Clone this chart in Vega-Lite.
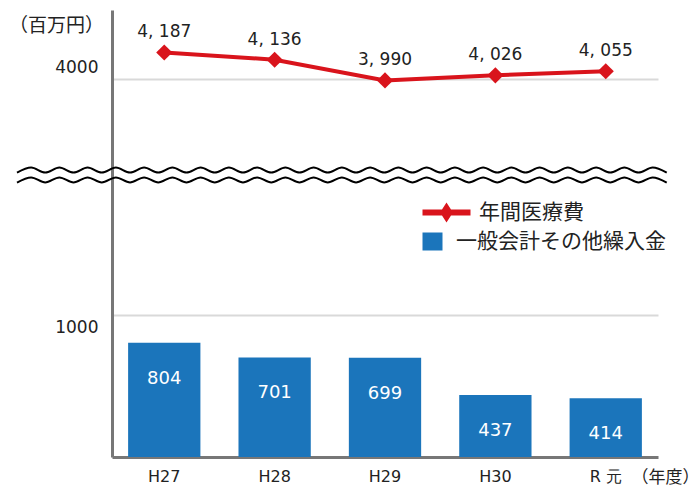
{
  "$schema": "https://vega.github.io/schema/vega-lite/v6.json",
  "width": 546,
  "height": 447,
  "autosize": "none",
  "padding": {"left": 112, "top": 10, "right": 42, "bottom": 38},
  "background": "white",
  "config": {
    "view": {"stroke": null},
    "font": "Noto Sans CJK JP",
    "legend": {
      "orient": "none",
      "legendX": 324,
      "legendY": 192,
      "padding": 0,
      "labelFontSize": 21,
      "labelColor": "#222",
      "labelFont": "Noto Sans CJK JP",
      "labelLimit": 400,
      "symbolSize": 400,
      "rowPadding": 7,
      "symbolOpacity": 1
    }
  },
  "resolve": {"scale": {"x": "independent"}},
  "layer": [
    {
      "data": {
        "values": [
          {"year": "H27", "cost": 4187, "costLabel": "4, 187", "transfer": 804},
          {"year": "H28", "cost": 4136, "costLabel": "4, 136", "transfer": 701},
          {"year": "H29", "cost": 3990, "costLabel": "3, 990", "transfer": 699},
          {"year": "H30", "cost": 4026, "costLabel": "4, 026", "transfer": 437},
          {"year": "R 元", "cost": 4055, "costLabel": "4, 055", "transfer": 414}
        ]
      },
      "encoding": {
        "x": {
          "field": "year",
          "type": "nominal",
          "sort": null,
          "title": "（年度）",
          "scale": {"paddingInner": 0.345, "paddingOuter": 0.146},
          "axis": {
            "ticks": false,
            "grid": false,
            "domainColor": "#777",
            "domainWidth": 3,
            "labelAngle": 0,
            "labelFont": "DejaVu Sans",
            "labelFontSize": 16,
            "labelColor": "#222",
            "labelPadding": 11,
            "titleX": 553,
            "titleY": 20,
            "titleAlign": "center",
            "titleBaseline": "middle",
            "titleFont": "Noto Sans CJK JP",
            "titleFontSize": 17,
            "titleFontWeight": "normal",
            "titleColor": "#222"
          }
        }
      },
      "layer": [
        {
          "mark": {"type": "bar"},
          "encoding": {
            "y": {
              "field": "transfer",
              "type": "quantitative",
              "title": "（百万円）",
              "scale": {"domain": [0, 1986, 3324, 4486], "range": [447, 165, 165, 0], "nice": false, "zero": false},
              "axis": {
                "values": [1000, 4000],
                "format": "d",
                "ticks": false,
                "domainColor": "#777",
                "domainWidth": 3,
                "grid": true,
                "gridColor": "#d9d9d9",
                "gridWidth": 2,
                "labelFont": "DejaVu Sans",
                "labelFontSize": 17,
                "labelColor": "#222",
                "labelPadding": 14,
                "labelOffset": {"condition": {"test": "datum.value === 1000", "value": 12}, "value": -12},
                "titleAngle": 0,
                "titleX": -56,
                "titleY": 15,
                "titleAlign": "center",
                "titleBaseline": "middle",
                "titleFont": "Noto Sans CJK JP",
                "titleFontSize": 19,
                "titleFontWeight": "normal",
                "titleColor": "#222"
              }
            },
            "color": {
              "datum": "一般会計その他繰入金",
              "scale": {"domain": ["年間医療費", "一般会計その他繰入金"], "range": ["#d9141c", "#1b75bb"]},
              "legend": {
                "title": null,
                "encode": {
                  "symbols": {
                    "update": {
                      "shape": {"signal": "datum.value === '年間医療費' ? 'M-2.4,-0.3H-0.45L0,-1L0.45,-0.3H2.4V0.3H0.45L0,1L-0.45,0.3H-2.4Z' : 'M-2.4,-0.9H-0.4V0.9H-2.4Z'"},
                      "fill": {"signal": "datum.value === '年間医療費' ? '#d9141c' : '#1b75bb'"},
                      "stroke": {"value": "transparent"},
                      "strokeWidth": {"value": 0},
                      "opacity": {"value": 1}
                    }
                  },
                  "labels": {"update": {"dx": {"signal": "datum.value === '年間医療費' ? 18 : -5"}}}
                }
              }
            }
          }
        },
        {
          "mark": {"type": "text", "color": "white", "font": "DejaVu Sans", "fontSize": 18, "baseline": "middle", "dy": 36},
          "encoding": {
            "y": {"field": "transfer", "type": "quantitative", "title": "（百万円）"},
            "text": {"field": "transfer", "type": "quantitative"}
          }
        },
        {
          "mark": {"type": "line", "strokeWidth": 4},
          "encoding": {
            "y": {"field": "cost", "type": "quantitative", "title": "（百万円）"},
            "color": {"datum": "年間医療費"}
          }
        },
        {
          "mark": {"type": "point", "shape": "diamond", "filled": true, "size": 260, "opacity": 1},
          "encoding": {
            "y": {"field": "cost", "type": "quantitative", "title": "（百万円）"},
            "color": {"datum": "年間医療費"}
          }
        },
        {
          "mark": {"type": "text", "font": "DejaVu Sans", "fontSize": 17, "baseline": "middle", "dy": -20, "color": "#222"},
          "encoding": {
            "y": {"field": "cost", "type": "quantitative", "title": "（百万円）"},
            "text": {"field": "costLabel"}
          }
        }
      ]
    },
    {
      "data": {
        "values": [
          {"wx": -17.40, "u": 3341, "l": 1933},
          {"wx": -14.81, "u": 3377, "l": 1969},
          {"wx": -12.23, "u": 3341, "l": 1933},
          {"wx": -9.64, "u": 3377, "l": 1969},
          {"wx": -7.05, "u": 3341, "l": 1933},
          {"wx": -4.47, "u": 3377, "l": 1969},
          {"wx": -1.88, "u": 3341, "l": 1933},
          {"wx": 0.71, "u": 3377, "l": 1969},
          {"wx": 3.30, "u": 3341, "l": 1933},
          {"wx": 5.88, "u": 3377, "l": 1969},
          {"wx": 8.47, "u": 3341, "l": 1933},
          {"wx": 11.06, "u": 3377, "l": 1969},
          {"wx": 13.64, "u": 3341, "l": 1933},
          {"wx": 16.23, "u": 3377, "l": 1969},
          {"wx": 18.82, "u": 3341, "l": 1933},
          {"wx": 21.41, "u": 3377, "l": 1969},
          {"wx": 23.99, "u": 3341, "l": 1933},
          {"wx": 26.58, "u": 3377, "l": 1969},
          {"wx": 29.17, "u": 3341, "l": 1933},
          {"wx": 31.75, "u": 3377, "l": 1969},
          {"wx": 34.34, "u": 3341, "l": 1933},
          {"wx": 36.93, "u": 3377, "l": 1969},
          {"wx": 39.51, "u": 3341, "l": 1933},
          {"wx": 42.10, "u": 3377, "l": 1969},
          {"wx": 44.69, "u": 3341, "l": 1933},
          {"wx": 47.28, "u": 3377, "l": 1969},
          {"wx": 49.86, "u": 3341, "l": 1933},
          {"wx": 52.45, "u": 3377, "l": 1969},
          {"wx": 55.04, "u": 3341, "l": 1933},
          {"wx": 57.62, "u": 3377, "l": 1969},
          {"wx": 60.21, "u": 3341, "l": 1933},
          {"wx": 62.80, "u": 3377, "l": 1969},
          {"wx": 65.38, "u": 3341, "l": 1933},
          {"wx": 67.97, "u": 3377, "l": 1969},
          {"wx": 70.56, "u": 3341, "l": 1933},
          {"wx": 73.15, "u": 3377, "l": 1969},
          {"wx": 75.73, "u": 3341, "l": 1933},
          {"wx": 78.32, "u": 3377, "l": 1969},
          {"wx": 80.91, "u": 3341, "l": 1933},
          {"wx": 83.49, "u": 3377, "l": 1969},
          {"wx": 86.08, "u": 3341, "l": 1933},
          {"wx": 88.67, "u": 3377, "l": 1969},
          {"wx": 91.25, "u": 3341, "l": 1933},
          {"wx": 93.84, "u": 3377, "l": 1969},
          {"wx": 96.43, "u": 3341, "l": 1933},
          {"wx": 99.02, "u": 3377, "l": 1969},
          {"wx": 101.60, "u": 3341, "l": 1933}
        ]
      },
      "encoding": {
        "x": {"field": "wx", "type": "quantitative", "scale": {"domain": [0, 100], "nice": false, "zero": false}, "axis": null}
      },
      "layer": [
        {
          "mark": {"type": "line", "color": "black", "strokeWidth": 2, "interpolate": "monotone"},
          "encoding": {"y": {"field": "u", "type": "quantitative", "title": "（百万円）"}}
        },
        {
          "mark": {"type": "line", "color": "black", "strokeWidth": 2, "interpolate": "monotone"},
          "encoding": {"y": {"field": "l", "type": "quantitative", "title": "（百万円）"}}
        }
      ]
    }
  ]
}
